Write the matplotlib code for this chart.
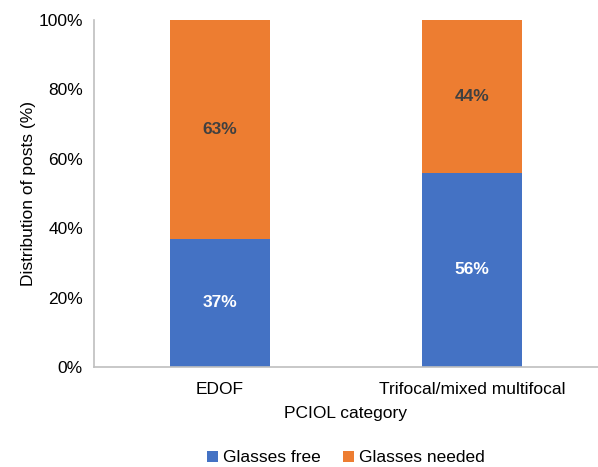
import numpy as np
import matplotlib.pyplot as plt

plt.rcParams['font.family'] = ['Liberation Sans', 'DejaVu Sans']

categories = ['EDOF', 'Trifocal/mixed multifocal']
glasses_free = [37, 56]
glasses_needed = [63, 44]

blue = '#4472C4'
orange = '#ED7D31'
fs = 12.5

fig = plt.figure(figsize=(5.98, 4.67), dpi=100)
ax = fig.add_axes([94 / 598, 100 / 467, 504 / 598, 347 / 467])

x = np.arange(len(categories))
w = 0.395
b1 = ax.bar(x, glasses_free, w, color=blue, label='Glasses free')
b2 = ax.bar(x, glasses_needed, w, bottom=glasses_free, color=orange, label='Glasses needed')

# value labels centred in each segment
for i in range(len(categories)):
    ax.text(x[i], glasses_free[i] / 2, f'{glasses_free[i]}%', ha='center', va='center',
            color='white', fontsize=fs, fontweight='bold')
    ax.text(x[i], glasses_free[i] + glasses_needed[i] / 2, f'{glasses_needed[i]}%',
            ha='center', va='center', color='#404040', fontsize=fs, fontweight='bold')

ax.set_xlim(-0.5, 1.5)
ax.set_ylim(0, 100)
ax.set_yticks(range(0, 101, 20))
ax.set_yticklabels([f'{v}%' for v in range(0, 101, 20)])
ax.set_xticks(x)
ax.set_xticklabels(categories)
ax.tick_params(length=0, labelsize=fs, colors='#000000', pad=8)
ax.tick_params(axis='x', pad=11)

for s in ['top', 'right']:
    ax.spines[s].set_visible(False)
for s in ['left', 'bottom']:
    ax.spines[s].set_color('#BFBFBF')
    ax.spines[s].set_linewidth(1.2)

ax.set_ylabel('Distribution of posts (%)', fontsize=fs, labelpad=2)
ax.set_xlabel('PCIOL category', fontsize=fs, labelpad=6)

fig.legend(handles=[b1, b2], loc='center', bbox_to_anchor=(346 / 598, 1 - 458 / 467),
           ncol=2, frameon=False, fontsize=fs, handlelength=0.6, handleheight=0.6,
           handletextpad=0.3, columnspacing=1.3)

fig.savefig('out.png', dpi=100)
